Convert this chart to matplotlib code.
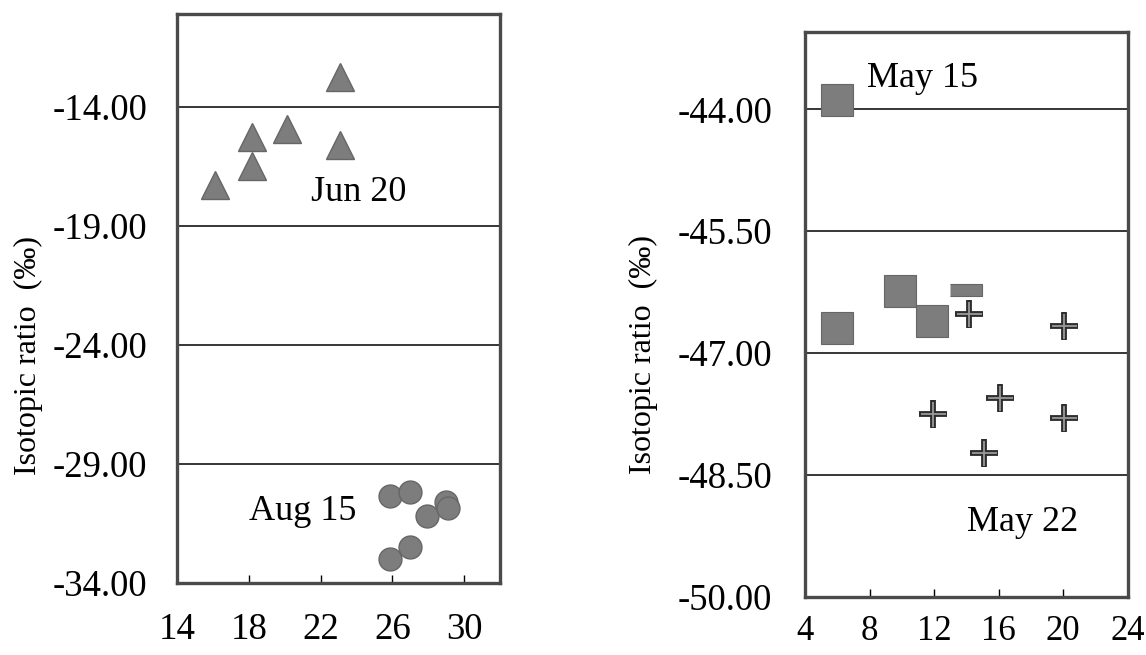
import numpy as np
import matplotlib.pyplot as plt

# ============================================================
# Data
# ============================================================
# left panel: Jun 20 (triangles), Aug 15 (circles)
jun20_x = [23.1, 18.15, 20.1, 23.1, 18.15, 16.1]
jun20_y = [-12.75, -15.27, -14.93, -15.6, -16.49, -17.3]
aug15_x = [25.85, 26.98, 27.9, 29.0, 29.1, 25.85, 26.98]
aug15_y = [-30.34, -30.2, -31.18, -30.6, -30.85, -33.0, -32.5]

# right panel: May 15 (squares), May 22 (crosses)
may15_x = [5.97, 5.97, 9.87, 11.85]
may15_y = [-43.89, -46.69, -46.24, -46.6]
may15_part_x = [14.0]          # partly drawn square in the scan
may15_part_y = [-46.22]
may22_x = [14.13, 20.03, 11.9, 16.1, 20.03, 15.1]
may22_y = [-46.52, -46.67, -47.75, -47.55, -47.8, -48.23]

left_yticks = [-14.0, -19.0, -24.0, -29.0, -34.0]
left_xticks = [14, 18, 22, 26, 30]
right_yticks = [-44.0, -45.5, -47.0, -48.5, -50.0]
right_xticks = [4, 8, 12, 16, 20, 24]

YLABEL = "Isotopic ratio  (\u2030)"

plt.rcParams["font.family"] = ["Liberation Serif", "DejaVu Serif"]

MARK = "#7d7d7d"
EDGE = "#666666"
FRAME = "#4a4a4a"

fig = plt.figure(figsize=(11.46, 6.55), dpi=100)
ax1 = fig.add_axes([0.1545, 0.1100, 0.2819, 0.8687])
ax2 = fig.add_axes([0.7024, 0.0885, 0.2818, 0.8626])


def style_axes(ax, xticks, yticks, xlim, ylim, ypad, xpad, xsize=26.5):
    ax.set_xlim(*xlim)
    ax.set_ylim(*ylim)
    ax.set_xticks(xticks)
    ax.set_yticks(yticks)
    ax.set_yticklabels([f"{v:.2f}" for v in yticks])
    ax.set_xticklabels([str(v) for v in xticks])
    for y in yticks:
        ax.axhline(y, color="black", lw=1.1, zorder=1)
    for s in ax.spines.values():
        s.set_linewidth(2.4)
        s.set_color(FRAME)
    ax.tick_params(axis="y", length=0, pad=ypad, labelsize=26.5)
    ax.tick_params(axis="x", direction="in", length=6, width=1.0,
                   pad=xpad, labelsize=xsize)


# ============================================================
# left panel
# ============================================================
style_axes(ax1, left_xticks, left_yticks, (14, 32), (-34, -10.1), 21.5, 21.5)
ax1.plot(jun20_x, jun20_y, ls="none", marker="^", ms=20, mfc=MARK,
         mec=EDGE, mew=1, zorder=3)
ax1.plot(aug15_x, aug15_y, ls="none", marker="o", ms=16.5, mfc=MARK,
         mec=EDGE, mew=1, zorder=3)
ax1.text(24.14, -17.59, "Jun 20", fontsize=26, ha="center", va="center")
ax1.text(21.0, -31.0, "Aug 15", fontsize=26, ha="center", va="center")
ax1.set_ylabel(YLABEL, fontsize=23)
ax1.yaxis.set_label_coords(-0.415, 0.40)

# ============================================================
# right panel
# ============================================================
style_axes(ax2, right_xticks, right_yticks, (4, 24), (-50, -43.05), 23.5, 13,
           xsize=25)
ax2.plot(may15_x, may15_y, ls="none", marker="s", ms=23, mfc=MARK,
         mec=EDGE, mew=0.8, zorder=3)
ax2.plot(may15_part_x, may15_part_y, ls="none",
         marker=[(-1, -0.38), (1, -0.38), (1, 0.38), (-1, 0.38)],
         ms=23, mfc=MARK, mec=EDGE, mew=0.8, zorder=3)
ax2.plot(may22_x, may22_y, ls="none", marker="+", ms=20, mec="#2e2e2e",
         mew=4.2, zorder=3)
ax2.plot(may22_x, may22_y, ls="none", marker="+", ms=18, mec="#9a9a9a",
         mew=1.3, zorder=4)
ax2.text(11.3, -43.62, "May 15", fontsize=26, ha="center", va="center")
ax2.text(17.45, -49.08, "May 22", fontsize=26, ha="center", va="center")
ax2.set_ylabel(YLABEL, fontsize=23)
ax2.yaxis.set_label_coords(-0.455, 0.43)

fig.savefig("out.png", dpi=100)
